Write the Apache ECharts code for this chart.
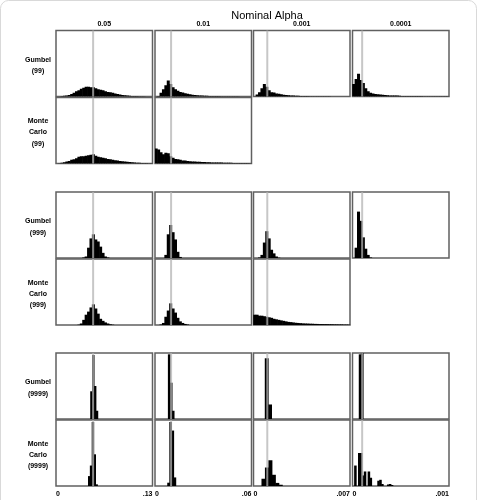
<!DOCTYPE html>
<html><head><meta charset="utf-8">
<script src="https://cdn.jsdelivr.net/npm/echarts@6/dist/echarts.min.js"></script>
<style>html,body{margin:0;padding:0;background:#fff}#c{width:480px;height:500px}</style>
</head><body><div id="c"></div>
<script>
// ---------- data ----------
const chartTitle = 'Nominal Alpha';
const columnLabels = ['0.05', '0.01', '0.001', '0.0001'];
const nominalAlpha = [0.05, 0.01, 0.001, 0.0001];
const axisMax = [0.13, 0.06, 0.007, 0.001];
const rowLabels = [
  ['Gumbel', '(99)'], ['Monte', 'Carlo', '(99)'],
  ['Gumbel', '(999)'], ['Monte', 'Carlo', '(999)'],
  ['Gumbel', '(9999)'], ['Monte', 'Carlo', '(9999)']
];
// histogram bin widths (bins start at 0) for the 99 and 999 groups, per column
const binWidth = [0.00325, 0.0015, 0.000175, 0.000025];
// bar heights, percent of panel height
const gumbel99 = [
  [0,0,0.8,1.1,1.6,2.3,3.9,5.5,7.8,9.4,11.7,13.3,14.8,14.8,14.1,14.1,12.5,10.9,10.2,9.4,7.8,7,6.3,5.5,4.7,3.9,3.1,2.3,1.9,1.6,1.3,0.9,0.8,0.6,0.5,0.3,0.3],
  [0,0.8,5.5,10.9,17.2,24.2,18.8,14.1,10.9,8.6,7,5.9,5,4.2,3.4,2.8,2.3,2,1.7,1.4,1.3,1.1,0.9,0.8,0.8,0.6,0.6,0.5,0.5,0.3,0.3,0.3,0.3,0.2,0.2],
  [0,3.1,6.3,12.5,18.8,14.8,9.4,6.6,5.9,4.7,4.1,3.4,2.8,2.3,1.9,1.6,1.4,1.3,1.1,0.9,0.8,0.6,0.6,0.5,0.5,0.3,0.3,0.3,0.2,0.2,0.2,0.2],
  [18.8,26.6,34.4,25,20.3,12.5,7.8,5.5,4.7,3.9,3.4,3.1,2.7,2.2,1.9,1.7,1.6,1.4,1.4,1.3,0.9,0.8,0.8,0.8,0.8,0.6,0.6,0.6,0.6,0.5,0.5,0.5,0.5,0.5,0.3,0.3,0.3,0.2,0.2,0.2]
];
const monteCarlo99 = [
  [0,0.5,1.3,1.9,3.1,3.9,5.5,6.3,7.8,10.2,10.9,10.9,11.7,12.5,13.3,14.1,11.7,10.2,9.4,8.6,7.8,7,6.3,5.5,5,4.7,3.9,3.4,3.1,2.7,2.3,1.9,1.6,1.3,1.1,0.9,0.8,0.6,0.5,0.5],
  [22.7,21.1,17.2,14.1,16.4,15.6,10.9,8.6,7,6.3,5.5,4.7,4.4,3.9,3.4,3.1,3,2.8,2.7,2.3,2.2,2,1.9,1.7,1.6,1.6,1.4,1.4,1.3,1.3,1.1,1.1,0.9,0.9,0.8,0.8,0.8,0.6,0.6,0.5],
  null,
  null
];
const gumbel999 = [
  [0,0,0,0,0,0,0,0,0,0,0,0.8,2.3,15.6,29.7,35.9,28.1,25,17.2,7.8,2.3,0.8],
  [0,0,0,0,4.7,35.9,50,39.1,28.1,9.4,1.6],
  [0,0,0.8,4.7,23.4,40.6,29.7,12.5,7,2.3,0.5],
  [0,15.6,70.3,56.3,31.3,14.1,4.7,0.8]
];
const monteCarlo999 = [
  [0,0,0,0,0,0,0,0,0,0.5,2.3,7.8,15.6,20.3,26.6,31.3,25,17.2,9.4,6.3,3.9,2.3,1.1,0.5],
  [0,0,0.8,3.1,12.5,21.9,32.8,25,18.8,10.9,5.5,3.1,1.6,0.8],
  [15.6,15.6,14.1,14.1,13.3,12.5,11.7,10.9,9.4,8.6,7.8,7,6.3,5.5,4.7,4.4,3.9,3.4,3.1,2.8,2.5,2.3,2.2,2,1.9,1.7,1.6,1.4,1.4,1.3,1.3,1.1,1.1,0.9,0.9,0.8,0.8,0.6,0.6,0.5],
  null
];
// 9999 group: discrete bars with their own bin starts and widths
const gumbel9999Start = [0.0465, 0.0082, 0.00084, 0.000068];
const gumbel9999Width = [0.0025, 0.00125, 0.00024, 0.000022];
const gumbel9999 = [
  [42, 97, 50, 12.5],
  [98, 55, 12.5],
  [92, 22],
  [98, 100]
];
const monteCarlo9999Start = [0.0435, 0.0078, 0.0006, 0.00002];
const monteCarlo9999Width = [0.0025, 0.0013, 0.00025, 0.00002];
const monteCarlo9999 = [
  [15, 31, 97, 48, 2.5],
  [5, 97, 84, 13],
  [11, 28, 39, 17, 4.7, 1.9],
  [31, 0, 50, 50, 16, 22, 0, 22, 12.5, 0, 0, 0, 8, 9.4, 3, 0, 0, 2.3, 3, 1.5]
];

// ---------- layout ----------
const colLeft = [56, 155, 253.5, 352.5];
const panelW = 96.5;
const rowTop = [30.5, 97.5, 192, 259, 353, 420];
const panelH = 66;
const FONT = '"Liberation Sans", Arial, sans-serif';

const rows = [
  { h: gumbel99, start: [0,0,0,0], width: binWidth },
  { h: monteCarlo99, start: [0,0,0,0], width: binWidth },
  { h: gumbel999, start: [0,0,0,0], width: binWidth },
  { h: monteCarlo999, start: [0,0,0,0], width: binWidth },
  { h: gumbel9999, start: gumbel9999Start, width: gumbel9999Width },
  { h: monteCarlo9999, start: monteCarlo9999Start, width: monteCarlo9999Width }
];

const grid = [], xAxis = [], yAxis = [], series = [];
let p = 0;
rows.forEach((row, r) => {
  row.h.forEach((heights, c) => {
    if (!heights) return;
    grid.push({ left: colLeft[c], top: rowTop[r], width: panelW, height: panelH,
      show: true, borderColor: '#606060', borderWidth: 1.5, backgroundColor: '#fff', containLabel: false });
    xAxis.push({ gridIndex: p, type: 'value', min: 0, max: axisMax[c], interval: axisMax[c],
      axisLine: { show: false }, axisTick: { show: false }, splitLine: { show: false },
      axisLabel: { show: r === 5, margin: 5, color: '#000', fontSize: 7, fontWeight: 'bold', fontFamily: FONT,
        alignMinLabel: 'left', alignMaxLabel: 'right',
        formatter: v => v === 0 ? '0' : String(v).replace(/^0/, '') } });
    yAxis.push({ gridIndex: p, type: 'value', min: 0, max: 100, show: false, splitLine: { show: false } });
    const data = heights.map((h, i) => {
      const x0 = row.start[c] + i * row.width[c];
      return [x0, x0 + row.width[c], h];
    }).filter(d => d[2] > 0);
    series.push({
      type: 'custom', xAxisIndex: p, yAxisIndex: p, data, clip: true, silent: true, z: 2,
      encode: { x: [0, 1], y: 2 },
      renderItem: (params, api) => {
        const a = api.coord([api.value(0), 0]);
        const b = api.coord([api.value(1), api.value(2)]);
        return { type: 'rect', shape: { x: a[0] - 0.3, y: b[1], width: b[0] - a[0] + 0.6, height: a[1] - b[1] },
          style: { fill: '#000' } };
      }
    });
    series.push({
      type: 'line', xAxisIndex: p, yAxisIndex: p, silent: true, z: 3, symbol: 'none',
      data: [[nominalAlpha[c], 0], [nominalAlpha[c], 100]],
      lineStyle: { color: 'rgba(180,180,180,0.75)', width: 2 }
    });
    p++;
  });
});

const graphic = [
  { type: 'rect', silent: true, shape: { x: 0.5, y: 0.5, width: 476, height: 540, r: 8 },
    style: { fill: 'none', stroke: '#d9d9d9', lineWidth: 1 } }
];
columnLabels.forEach((t, c) => {
  graphic.push({ type: 'text', x: colLeft[c] + panelW / 2, y: 24.5,
    style: { text: t, fill: '#000', font: 'bold 7px ' + FONT, align: 'center', verticalAlign: 'middle' } });
});
rowLabels.forEach((lines, r) => {
  const cy = rowTop[r] + panelH / 2 + 2;
  const lh = 11.4;
  lines.forEach((t, i) => {
    graphic.push({ type: 'text', x: 38, y: cy + (i - (lines.length - 1) / 2) * lh,
      style: { text: t, fill: '#000', font: 'bold 7px ' + FONT, align: 'center', verticalAlign: 'middle' } });
  });
});

const chart = echarts.init(document.getElementById('c'), null, { renderer: 'canvas' });
chart.setOption({
  animation: false,
  backgroundColor: '#fff',
  title: { text: chartTitle, left: 262, top: 5, textAlign: 'center',
    textStyle: { fontSize: 11, fontWeight: 'normal', color: '#000', fontFamily: FONT } },
  grid, xAxis, yAxis, series, graphic
});
</script></body></html>
